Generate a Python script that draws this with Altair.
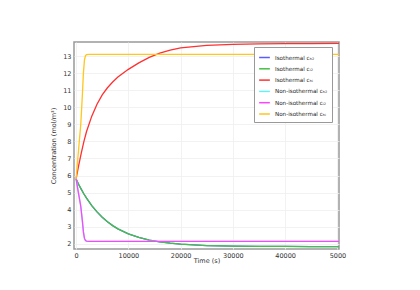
import altair as alt
import pandas as pd

# Isothermal series (time in s)
t_iso = [0, 500, 1000, 1500, 2000, 3000, 4000, 5000, 6000, 7000, 8000, 10000, 12000,
         14000, 16000, 18000, 20000, 25000, 30000, 35000, 40000, 45000, 50300]
iso_h2 = [5.80, 5.48, 5.19, 4.92, 4.68, 4.24, 3.87, 3.56, 3.30, 3.07, 2.88, 2.59, 2.38,
          2.22, 2.12, 2.04, 1.98, 1.90, 1.87, 1.85, 1.85, 1.84, 1.84]
iso_i2 = [5.80, 5.48, 5.19, 4.92, 4.68, 4.24, 3.87, 3.56, 3.30, 3.07, 2.88, 2.59, 2.38,
          2.22, 2.12, 2.04, 1.98, 1.90, 1.87, 1.85, 1.85, 1.84, 1.84]
iso_hi = [5.80, 6.60, 7.33, 8.00, 8.58, 9.48, 10.18, 10.72, 11.14, 11.48, 11.77, 12.22, 12.60,
          12.92, 13.17, 13.35, 13.47, 13.62, 13.68, 13.71, 13.72, 13.73, 13.74]

# Non-isothermal series
t_non = [0, 300, 600, 900, 1200, 1400, 1600, 1800, 2000, 2500, 5000, 10000, 20000, 30000, 40000, 50300]
non_h2 = [5.80, 5.25, 4.72, 4.19, 3.35, 2.70, 2.32, 2.19, 2.16, 2.15, 2.15, 2.15, 2.15, 2.15, 2.15, 2.15]
non_i2 = [5.80, 5.25, 4.72, 4.19, 3.35, 2.70, 2.32, 2.19, 2.16, 2.15, 2.15, 2.15, 2.15, 2.15, 2.15, 2.15]
non_hi = [5.80, 6.90, 7.96, 9.02, 10.70, 12.00, 12.76, 13.02, 13.08, 13.10, 13.10, 13.10, 13.10, 13.10, 13.10, 13.10]

labels = ["Isothermal cₕ₂", "Isothermal cᵢ₂", "Isothermal cₕᵢ",
          "Non-isothermal cₕ₂", "Non-isothermal cᵢ₂", "Non-isothermal cₕᵢ"]
colors = ["#5b5bff", "#44c044", "#ff3030", "#66f2f2", "#ff44ff", "#ffc61e"]
x_ticks = [0, 10000, 20000, 30000, 40000, 50000]
y_ticks = [2, 3, 4, 5, 6, 7, 8, 9, 10, 11, 12, 13]

series = [(t_iso, iso_h2), (t_iso, iso_i2), (t_iso, iso_hi),
          (t_non, non_h2), (t_non, non_i2), (t_non, non_hi)]
rows = []
for lab, (ts, vs) in zip(labels, series):
    for t, v in zip(ts, vs):
        rows.append({"t": t, "c": v, "series": lab})
df = pd.DataFrame(rows)

font = "DejaVu Sans"

base = alt.Chart(df).mark_line(strokeWidth=1.3, clip=True).encode(
    x=alt.X("t:Q", scale=alt.Scale(domain=[-400, 50300], nice=False, zero=False),
            axis=alt.Axis(values=x_ticks, title="Time (s)", format="d",
                          labelExpr="datum.value == 50000 ? '5000' : datum.label")),
    y=alt.Y("c:Q", scale=alt.Scale(domain=[1.7, 13.82], nice=False, zero=False),
            axis=alt.Axis(values=y_ticks, title="Concentration (mol/m³)")),
    color=alt.Color("series:N", scale=alt.Scale(domain=labels, range=colors),
                    legend=alt.Legend(title=None, orient="none", legendX=180, legendY=5,
                                      symbolType="stroke", symbolSize=115, symbolStrokeWidth=1.5,
                                      labelFontSize=5.6, labelFont=font, labelColor="#222",
                                      rowPadding=0.3, padding=4, strokeColor="#999",
                                      fillColor="white", labelLimit=200, labelOffset=4)),
)

layers = [base.transform_filter(alt.datum.series == lab) for lab in labels]

chart = alt.layer(*layers).properties(
    width=265, height=207,
    autosize="none",
    padding={"left": 74, "top": 42, "right": 81, "bottom": 41},
).configure_view(
    stroke="#999", strokeWidth=1.5
).configure_axis(
    grid=True, gridColor="#efefef", gridWidth=0.8,
    domain=False, ticks=False,
    labelFont=font, labelFontSize=6.5, labelColor="#333", labelPadding=3,
    titleFont=font, titleFontSize=6.5, titleColor="#333", titleFontWeight="normal",
).configure_axisX(titlePadding=-1).configure_axisY(titlePadding=6)

chart.save("out.html", embed_options={"renderer": "svg", "actions": False})
